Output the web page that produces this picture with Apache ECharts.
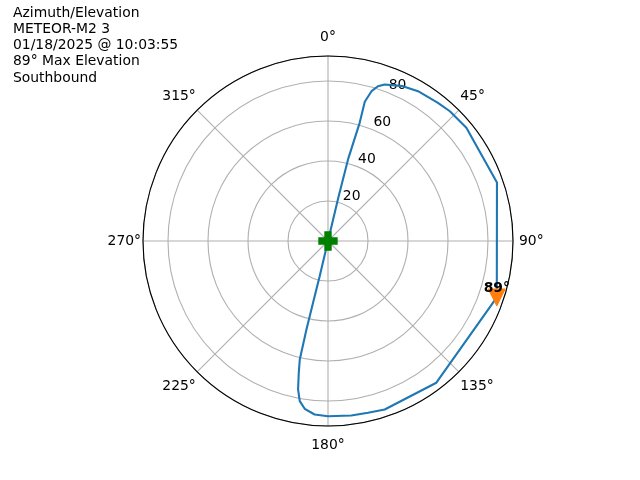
<!DOCTYPE html>
<html><head><meta charset="utf-8">
<script src="https://cdn.jsdelivr.net/npm/echarts@6/dist/echarts.min.js"></script>
<style>html,body{margin:0;padding:0;background:#fff}#c{width:640px;height:480px}</style>
</head><body><div id="c"></div>
<script>
const titleLines = ["Azimuth/Elevation", "METEOR-M2 3", "01/18/2025 @ 10:03:55", "89° Max Elevation", "Southbound"];
const angleTicks = [0, 45, 90, 135, 180, 225, 270, 315];
const radiusTicks = [20, 40, 60, 80];
const trackAzimuth = [14, 13.4, 13.8, 15, 14.8, 16.2, 17.9, 19.9, 25.8, 31, 38.5, 43.2, 50.7, 70.9, 108.5, 142.6, 161.4, 166.9, 172.4, 180, 184.4, 187.9, 190, 191.4, 192.5, 193.4, 193.7, 193.6, 193.3, 195];
const trackElevation = [0, 23, 42, 61.3, 72, 78, 81.3, 83.2, 86, 87.4, 88.3, 89, 89.4, 89.4, 89, 89.2, 88.9, 88.2, 88, 87.6, 87, 84.7, 81.3, 75.7, 67.5, 60.9, 45.5, 31.8, 18.1, 0];
const startAzimuth = [0];
const startElevation = [0];
const maxAzimuth = [108.5];
const maxElevation = [89];

const FONT = 'DejaVu Sans';
const FS = 13.9;
const chart = echarts.init(document.getElementById('c'), null, {renderer: 'canvas'});
const track = trackAzimuth.map((a, i) => [trackElevation[i], a]);
const start = startAzimuth.map((a, i) => [startElevation[i], a]);
const maxPt = maxAzimuth.map((a, i) => [maxElevation[i], a]);
const rs = pad => ({padding: pad, fontFamily: FONT, fontSize: FS, color: '#000'});
const richName = {0: 'n', 45: 'ne', 90: 'e', 135: 'se', 180: 's', 225: 'se', 270: 'w', 315: 'ne'};

chart.setOption({
  animation: false,
  backgroundColor: '#ffffff',
  title: {
    text: titleLines.join('\n'), left: 13, top: 5, padding: 0,
    textStyle: {fontFamily: FONT, fontSize: FS, fontWeight: 'normal', color: '#000', lineHeight: 16.2}
  },
  polar: [
    {center: [328, 241], radius: 185},
    {center: [332.5, 242.9], radius: [10, 195]}
  ],
  angleAxis: [
    {
      polarIndex: 0, type: 'value', min: 0, max: 360, interval: 45, startAngle: 90, clockwise: true,
      axisLine: {show: true, lineStyle: {color: '#000', width: 1.1}},
      axisTick: {show: false},
      splitLine: {show: true, lineStyle: {color: '#b0b0b0', width: 1.1}},
      axisLabel: {
        margin: 2, color: '#000', fontFamily: FONT, fontSize: FS,
        formatter: v => angleTicks.indexOf(v) < 0 ? '' : '{' + richName[v] + '|' + v + '°}',
        rich: {
          n: rs([0, 0, 10, 0]), s: rs([10, 0, 0, 0]), e: rs([0, 0, 0, 4]), w: rs([0, 0, 0, 0]),
          ne: rs([0, 0, 5, 0]), se: rs([6, 0, 0, 0])
        }
      }
    },
    {
      polarIndex: 1, type: 'value', min: 0, max: 360, startAngle: 67.5, clockwise: true, show: false,
      axisLine: {show: false}, axisTick: {show: false}, splitLine: {show: false}, axisLabel: {show: false}
    }
  ],
  radiusAxis: [
    {
      polarIndex: 0, type: 'value', min: 0, max: 92.5, interval: 20,
      axisLine: {show: false}, axisTick: {show: false}, axisLabel: {show: false},
      splitLine: {show: true, lineStyle: {color: '#b0b0b0', width: 1.1}}
    },
    {
      polarIndex: 1, type: 'value', min: 0, max: 92.5, interval: 20,
      axisLine: {show: false}, axisTick: {show: false}, splitLine: {show: false},
      axisLabel: {
        margin: 0, align: 'center', verticalAlign: 'middle', color: '#000', fontFamily: FONT, fontSize: FS,
        formatter: v => radiusTicks.indexOf(v) < 0 ? '' : String(v)
      }
    }
  ],
  series: [
    {
      type: 'line', coordinateSystem: 'polar', polarIndex: 0, data: track,
      showSymbol: false, symbol: 'none', smooth: false,
      lineStyle: {color: '#1f77b4', width: 2.1}, z: 3
    },
    {
      type: 'scatter', coordinateSystem: 'polar', polarIndex: 0, data: start,
      symbol: 'path://M-1,-3L1,-3L1,-1L3,-1L3,1L1,1L1,3L-1,3L-1,1L-3,1L-3,-1L-1,-1Z',
      symbolSize: 18, itemStyle: {color: '#008000', borderColor: '#008000', borderWidth: 1.4, opacity: 1}, z: 4
    },
    {
      type: 'scatter', coordinateSystem: 'polar', polarIndex: 0, data: maxPt,
      symbol: 'triangle', symbolRotate: 180, symbolSize: 17,
      itemStyle: {color: '#ff7f0e', borderColor: '#ff7f0e', borderWidth: 1, opacity: 1}, z: 4,
      label: {
        show: true, position: 'inside', offset: [0, -9],
        formatter: p => maxElevation[p.dataIndex] + '°',
        fontFamily: FONT, fontSize: FS, fontWeight: 'bold', color: '#000'
      }
    }
  ]
});
</script></body></html>
